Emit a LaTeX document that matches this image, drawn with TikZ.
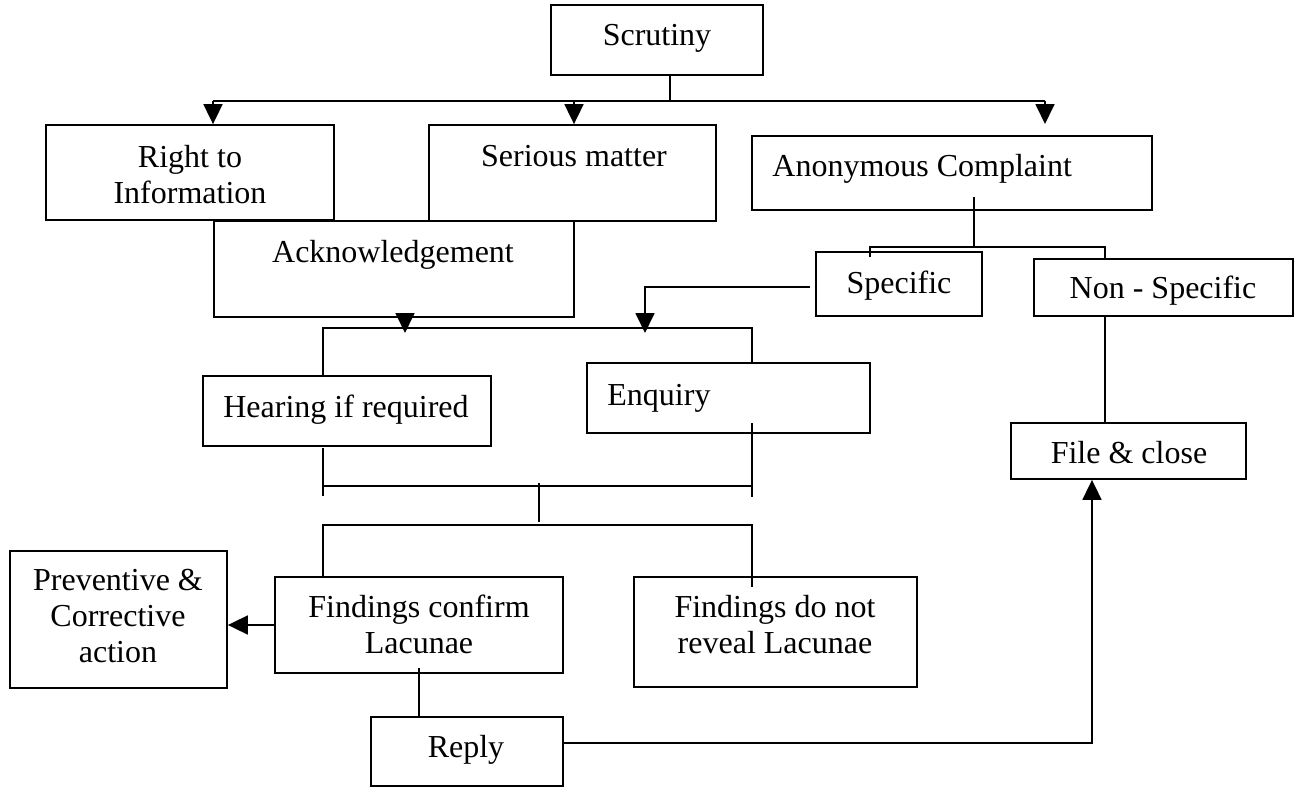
\documentclass[tikz,border=0pt]{standalone}
\usepackage{fontspec}
\setmainfont{Liberation Serif}
\usetikzlibrary{arrows.meta,fit}
\begin{document}
\begin{tikzpicture}[x=0.5pt,y=-0.5pt,
  box/.style={draw,line width=0.9pt,inner sep=0pt,rectangle},
  txt/.style={inner sep=0pt,font=\fontsize{16}{18}\selectfont},
  ln/.style={line width=0.9pt},
  arr/.style={ln,-{Triangle[length=10pt,width=9.5pt]}}]
\useasboundingbox (0,0) rectangle (1314,788);
% boxes
\node[box,fit={(551,5) (763,75)}] (scr) {};
\node[box,fit={(46,125) (334,220)}] (rti) {};
\node[box,fit={(429,125) (716,221)}] (ser) {};
\node[box,fit={(752,136) (1152,210)}] (anon) {};
\node[box,fit={(214,221) (574,317)}] (ack) {};
\node[box,fit={(816,252) (982,316)}] (spec) {};
\node[box,fit={(1034,259) (1293,316)}] (nons) {};
\node[box,fit={(203,376) (491,446)}] (hear) {};
\node[box,fit={(587,363) (870,433)}] (enq) {};
\node[box,fit={(1011,423) (1246,479)}] (filec) {};
\node[box,fit={(10,551) (227,688)}] (prev) {};
\node[box,fit={(275,577) (563,673)}] (fc) {};
\node[box,fit={(634,577) (917,687)}] (fd) {};
\node[box,fit={(371,717) (563,786)}] (reply) {};
% texts
\node[txt,anchor=base] (scr-t) at (657,45) {Scrutiny};
\node[txt,anchor=base] (rti-t) at (190,167) {\begin{tabular}[t]{@{}c@{}}Right to\\Information\end{tabular}};
\node[txt,anchor=base] (ser-t) at (574,166) {Serious matter};
\node[txt,anchor=base west] (anon-t) at (772,176) {Anonymous Complaint};
\node[txt,anchor=base] (ack-t) at (393,262) {Acknowledgement};
\node[txt,anchor=base] (spec-t) at (899,293) {Specific};
\node[txt,anchor=base] (nons-t) at (1163,298) {Non - Specific};
\node[txt,anchor=base] (hear-t) at (346,417) {Hearing if required};
\node[txt,anchor=base west] (enq-t) at (607,405) {Enquiry};
\node[txt,anchor=base] (filec-t) at (1129,463) {File \& close};
\node[txt,anchor=base] (prev-t) at (118,590) {\begin{tabular}[t]{@{}c@{}}Preventive \&\\Corrective\\action\end{tabular}};
\node[txt,anchor=base] (fc-t) at (419,617) {\begin{tabular}[t]{@{}c@{}}Findings confirm\\Lacunae\end{tabular}};
\node[txt,anchor=base] (fd-t) at (775,617) {\begin{tabular}[t]{@{}c@{}}Findings do not\\reveal Lacunae\end{tabular}};
\node[txt,anchor=base] (reply-t) at (466,757) {Reply};
% junction coordinates
\coordinate (j0) at (670,101);
\coordinate (b1L) at (213,101);
\coordinate (b1M) at (574,101);
\coordinate (b1R) at (1045,101);
\coordinate (anonIn) at (1045,124);
\coordinate (aOut) at (974,197);
\coordinate (aBus) at (974,247);
\coordinate (sIn) at (870,257);
\coordinate (nIn) at (1105,259);
\coordinate (nB) at (1105,316);
\coordinate (sp1) at (810,287);
\coordinate (sp2) at (645,333);
\coordinate (ak1) at (405,333);
\coordinate (b2L) at (323,328);
\coordinate (b2R) at (752,328);
\coordinate (h1) at (323,448);
\coordinate (h2) at (323,496);
\coordinate (e1) at (752,423);
\coordinate (e2) at (752,497);
\coordinate (b3L) at (323,486);
\coordinate (b3R) at (752,486);
\coordinate (m1) at (539,483);
\coordinate (m2) at (539,522);
\coordinate (b4L) at (323,525);
\coordinate (b4R) at (752,525);
\coordinate (fdIn) at (752,587);
\coordinate (pv) at (0,625);
\coordinate (fr1) at (419,668);
\coordinate (r1) at (1092,743);
% connectors
\draw[ln] (scr.south -| j0) -- (j0);
\draw[ln] (b1L) -- (b1R);
\draw[arr] (b1L) -- (b1L |- rti.north);
\draw[arr] (b1M) -- (b1M |- ser.north);
\draw[arr] (b1R) -- (anonIn);
\draw[ln] (aOut) -- (aBus);
\draw[ln] (sIn) |- (aBus) -| (nIn);
\draw[ln] (nB) -- (nB |- filec.north);
\draw[arr] (sp1) -| (sp2);
\draw[arr] (ack.south -| ak1) -- (ak1);
\draw[ln] (b2L |- hear.north) -- (b2L) -- (b2R) -- (b2R |- enq.north);
\draw[ln] (h1) -- (h2);
\draw[ln] (e1) -- (e2);
\draw[ln] (b3L) -- (b3R);
\draw[ln] (m1) -- (m2);
\draw[ln] (b4L |- fc.north) -- (b4L) -- (b4R) -- (fdIn);
\draw[arr] (fc.west |- pv) -- (prev.east |- pv);
\draw[ln] (fr1) -- (fr1 |- reply.north);
\draw[arr] (reply.east |- r1) -- (r1) -- (r1 |- filec.south);
\end{tikzpicture}
\end{document}
